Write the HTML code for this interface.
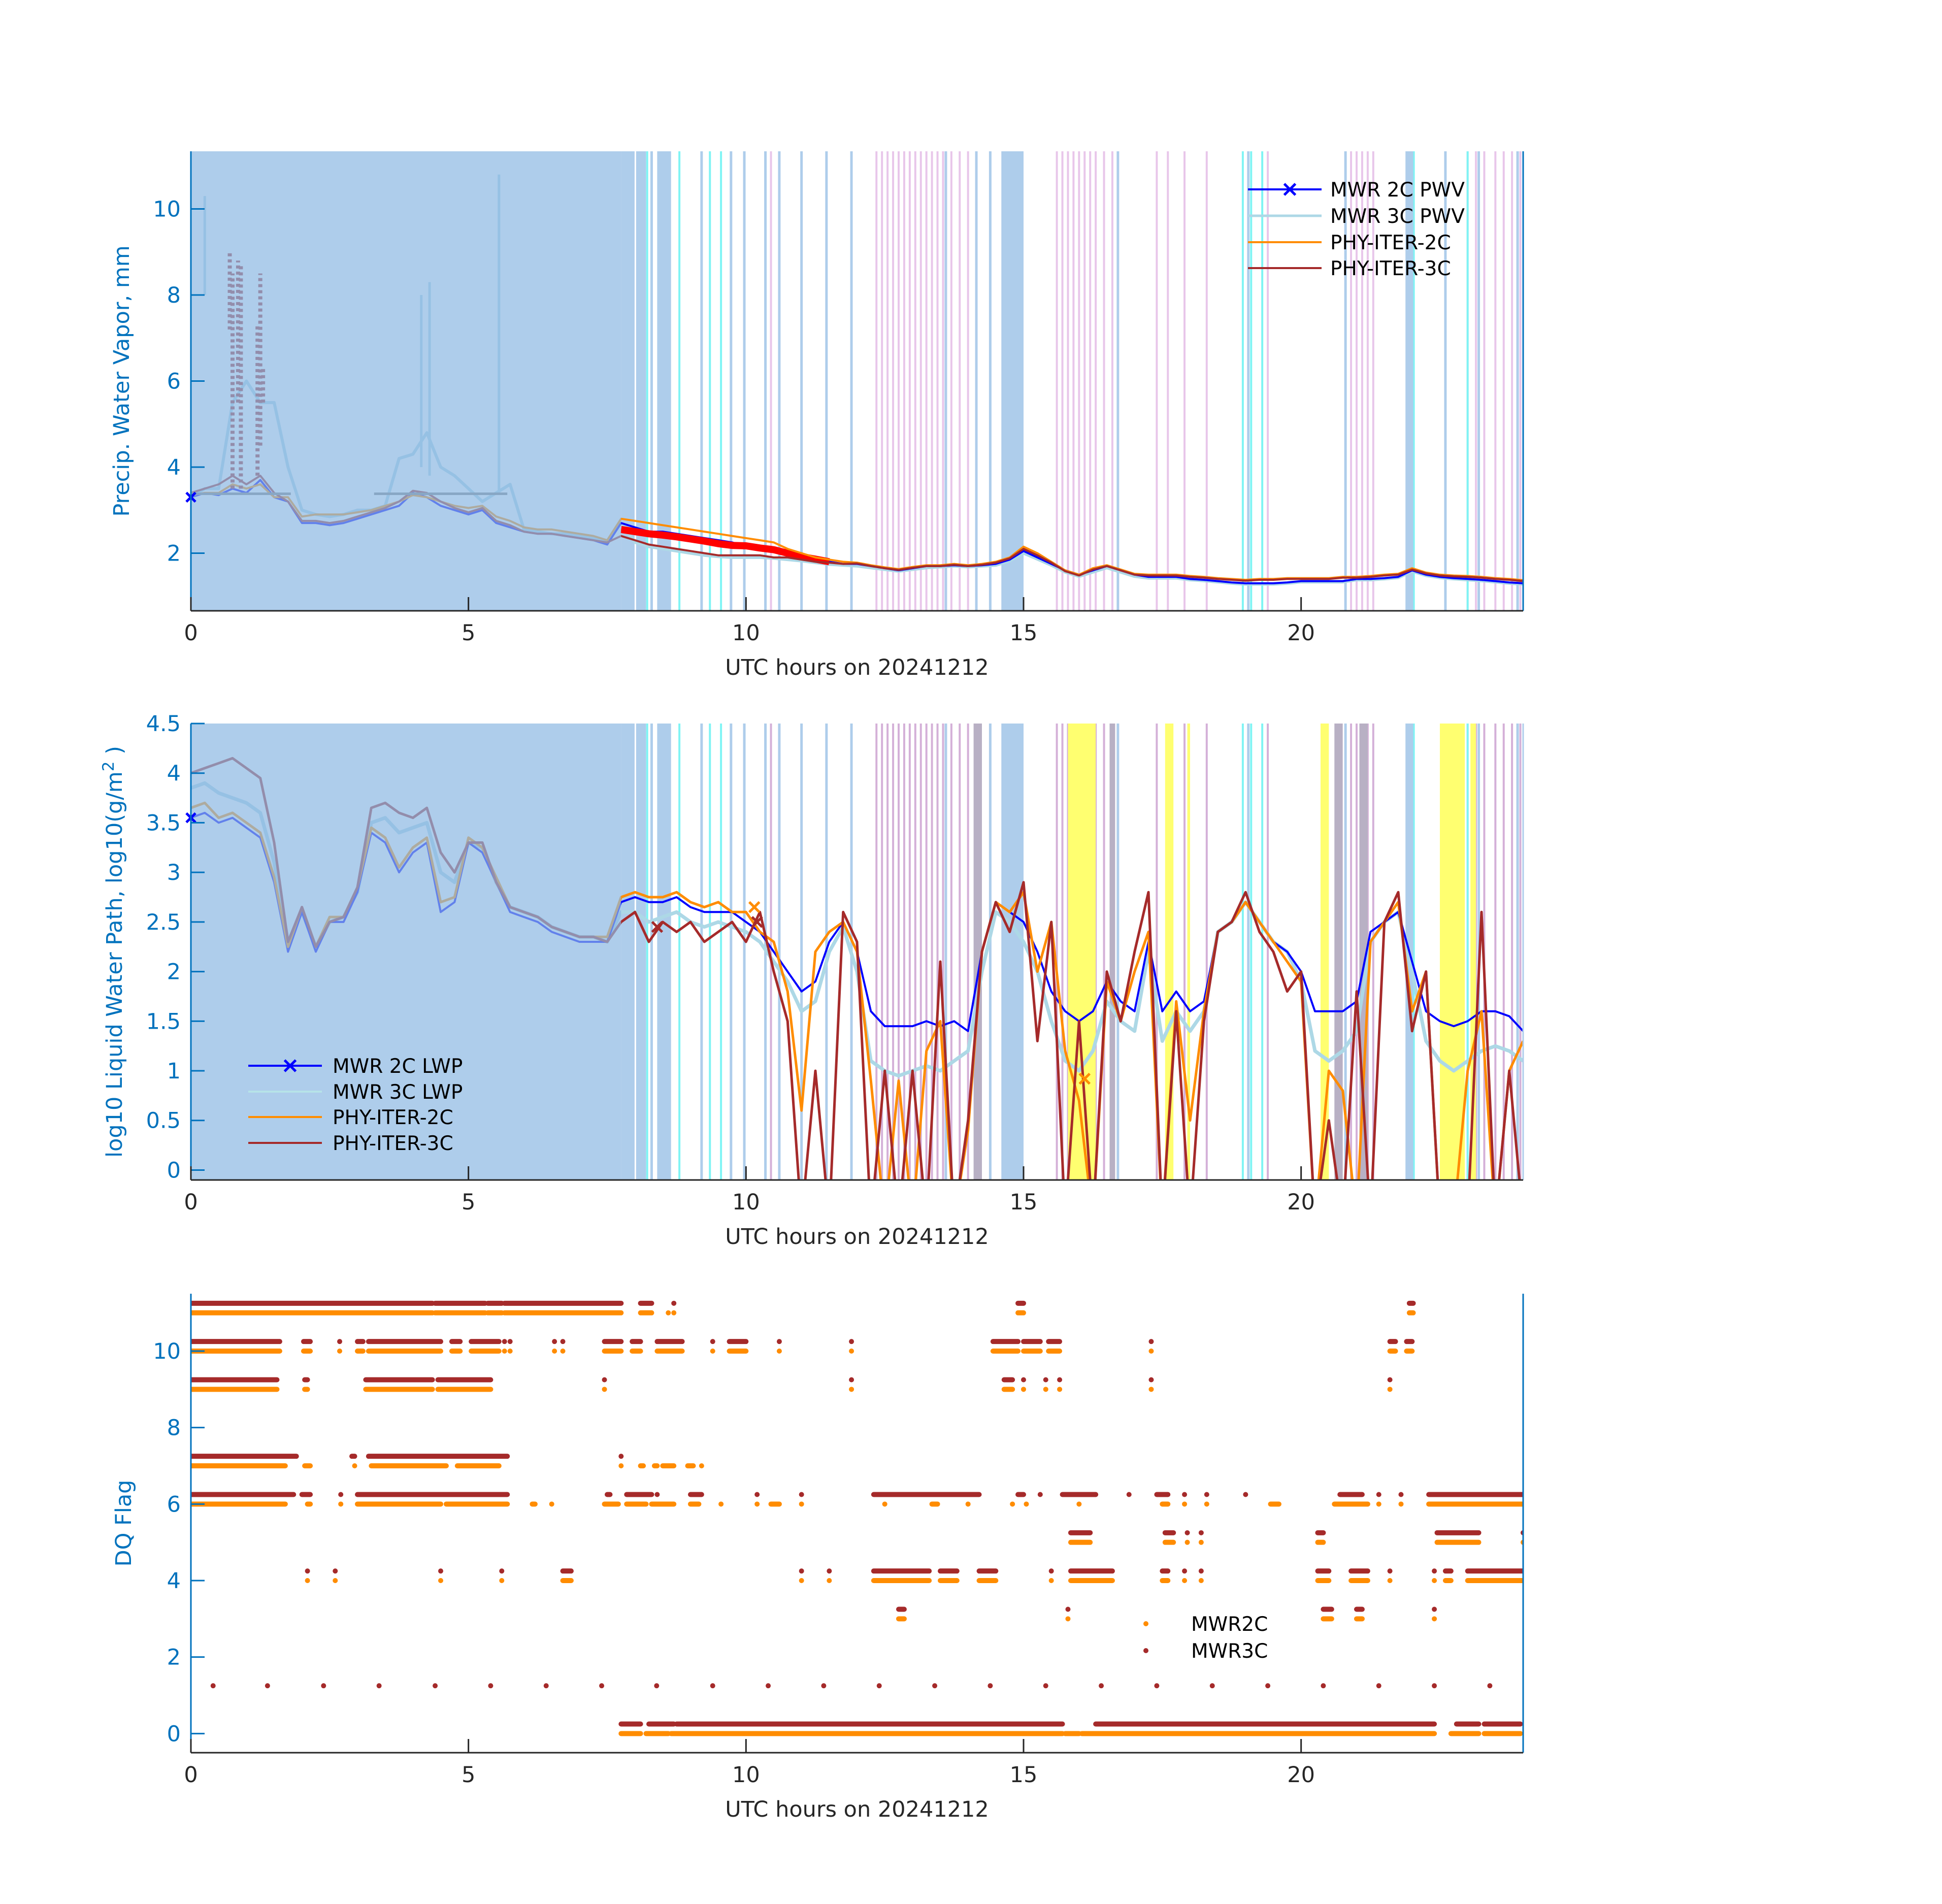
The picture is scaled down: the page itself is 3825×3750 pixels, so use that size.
<!DOCTYPE html>
<html><head><meta charset="utf-8"><style>
html,body{margin:0;padding:0;background:#fff}
svg{display:block}
text{font-family:"DejaVu Sans","Liberation Sans",sans-serif}
</style></head><body>
<svg id="fig" width="3825" height="3750" viewBox="0 0 3825 3750" xmlns="http://www.w3.org/2000/svg">
<rect width="3825" height="3750" fill="#fff"/>
<defs>
<clipPath id="c1"><rect x="376" y="298" width="2625" height="905"/></clipPath>
<clipPath id="c2"><rect x="376" y="1425" width="2625" height="899"/></clipPath>
<clipPath id="c3"><rect x="376" y="2548" width="2625" height="904"/></clipPath>
</defs>
<g id="p1"></g>
<g id="p2"></g>
<g id="p3"></g>
</svg>
<script>
// ---------- data ----------
const hours = []; for (let i = 0; i <= 96; i++) hours.push(i * 0.25);
const xTicks = [0, 5, 10, 15, 20];
const pwvTicks = [2, 4, 6, 8, 10];
const lwpTicks = [0, 0.5, 1, 1.5, 2, 2.5, 3, 3.5, 4, 4.5];
const lwpTickLabels = ['0','0.5','1','1.5','2','2.5','3','3.5','4','4.5'];
const dqTicks = [0, 2, 4, 6, 8, 10];

const pwv2C = [3.3,3.4,3.35,3.5,3.4,3.7,3.3,3.2, 2.7,2.7,2.65,2.7,2.8,2.9,3.0,3.1, 3.4,3.3,3.1,3.0,2.9,3.0,2.7,2.6,
 2.5,2.45,2.45,2.4,2.35,2.3,2.2,2.7, 2.6,2.5,2.5,2.45,2.4,2.35,2.3,2.25, 2.15,2.1,2.05,2.0,1.9,1.85,1.8,1.75,
 1.75,1.7,1.65,1.6,1.65,1.7,1.7,1.72, 1.7,1.72,1.75,1.85,2.05,1.9,1.75,1.6, 1.5,1.6,1.7,1.6,1.5,1.45,1.45,1.45,
 1.4,1.38,1.35,1.32,1.3,1.3,1.3,1.32, 1.35,1.35,1.35,1.35,1.4,1.4,1.42,1.45, 1.6,1.5,1.45,1.42,1.4,1.38,1.35,1.32, 1.3];
const pwv3C = [3.3,3.5,3.5,5.5,6.0,5.5,5.5,4.0, 3.0,2.9,2.85,2.9,3.0,3.0,3.1,4.2, 4.3,4.8,4.0,3.8,3.5,3.2,3.4,3.6,
 2.55,2.5,2.45,2.45,2.4,2.35,2.25,2.7, 2.25,2.15,2.1,2.05,2.0,1.95,1.92,1.9, 1.9,1.9,1.88,1.85,1.82,1.78,1.74,1.72,
 1.7,1.66,1.62,1.58,1.62,1.66,1.68,1.7, 1.68,1.7,1.72,1.82,2.0,1.86,1.72,1.56, 1.46,1.56,1.66,1.56,1.46,1.42,1.42,1.42,
 1.38,1.36,1.33,1.3,1.28,1.28,1.28,1.3, 1.33,1.33,1.33,1.33,1.38,1.38,1.4,1.43, 1.58,1.48,1.43,1.4,1.38,1.36,1.33,1.3, 1.28];
const pwvPhy2C = [3.35,3.4,3.4,3.6,3.5,3.6,3.3,3.3, 2.85,2.9,2.9,2.9,2.95,3.0,3.1,3.2, 3.35,3.3,3.2,3.1,3.05,3.1,2.85,2.75,
 2.6,2.55,2.55,2.5,2.45,2.4,2.3,2.8, 2.75,2.7,2.65,2.6,2.55,2.5,2.45,2.4, 2.35,2.3,2.25,2.1,2.0,1.9,1.85,1.8,
 1.78,1.72,1.67,1.63,1.68,1.72,1.72,1.75, 1.72,1.75,1.8,1.9,2.15,2.0,1.8,1.6, 1.5,1.65,1.72,1.62,1.52,1.5,1.5,1.5,
 1.47,1.45,1.42,1.4,1.38,1.4,1.4,1.42, 1.42,1.42,1.42,1.45,1.45,1.47,1.5,1.52, 1.65,1.55,1.5,1.48,1.47,1.45,1.42,1.4, 1.37];
const pwvPhy3C = [3.4,3.5,3.6,3.8,3.6,3.8,3.4,3.2, 2.75,2.75,2.7,2.75,2.85,2.95,3.05,3.2, 3.45,3.4,3.2,3.05,2.95,3.05,2.75,2.65,
 2.5,2.45,2.45,2.4,2.35,2.3,2.25,2.4, 2.3,2.2,2.15,2.1,2.05,2.0,1.95,1.95, 1.95,1.95,1.9,1.9,1.85,1.8,1.78,1.75,
 1.76,1.7,1.65,1.61,1.66,1.7,1.7,1.73, 1.7,1.73,1.78,1.88,2.1,1.95,1.78,1.58, 1.48,1.62,1.7,1.6,1.5,1.48,1.48,1.48,
 1.45,1.43,1.4,1.38,1.36,1.38,1.38,1.4, 1.4,1.4,1.4,1.43,1.43,1.45,1.48,1.5, 1.62,1.53,1.48,1.46,1.45,1.43,1.4,1.38, 1.35];
const redBandHours = [7.75,8,8.25,8.5,8.75,9,9.25,9.5,9.75,10,10.25,10.5,10.75,11,11.25,11.5];
const redBandPwv = [2.55,2.5,2.45,2.42,2.38,2.33,2.28,2.22,2.18,2.17,2.12,2.08,2.0,1.92,1.86,1.8];
const pwvSpikeHours = [0.7,0.75,0.85,0.9,1.2,1.25,1.3,0.25,5.55,4.15,4.3];
const pwvSpikeLow = [7.2,3.5,5.5,3.5,3.8,4.5,5.5,8.0,3.4,4.0,3.8];
const pwvSpikeHigh = [9.0,8.5,8.8,8.7,7.3,8.5,6.3,10.3,10.8,8.0,8.3];
const flatStart = [0, 3.3]; const flatEnd = [1.8, 5.7]; const flatValue = [3.38, 3.38];

const lwp2C = [3.55,3.6,3.5,3.55,3.45,3.35,2.9,2.2, 2.6,2.2,2.5,2.5,2.8,3.4,3.3,3.0, 3.2,3.3,2.6,2.7,3.3,3.2,2.9,2.6,
 2.55,2.5,2.4,2.35,2.3,2.3,2.3,2.7, 2.75,2.7,2.7,2.75,2.65,2.6,2.6,2.6, 2.5,2.4,2.2,2.0,1.8,1.9,2.3,2.5,
 2.2,1.6,1.45,1.45,1.45,1.5,1.45,1.5, 1.4,2.2,2.7,2.6,2.5,2.2,1.8,1.6, 1.5,1.6,1.9,1.7,1.6,2.3,1.6,1.8,
 1.6,1.7,2.4,2.5,2.7,2.5,2.3,2.2, 2.0,1.6,1.6,1.6,1.7,2.4,2.5,2.6, 2.1,1.6,1.5,1.45,1.5,1.6,1.6,1.55, 1.4];
const lwp3C = [3.85,3.9,3.8,3.75,3.7,3.6,3.1,2.3, 2.6,2.25,2.5,2.55,2.8,3.5,3.55,3.4, 3.45,3.5,3.0,2.9,3.3,3.25,2.9,2.65,
 2.6,2.55,2.45,2.4,2.35,2.35,2.3,2.6, 2.6,2.5,2.55,2.6,2.5,2.45,2.5,2.45, 2.4,2.3,2.1,1.9,1.6,1.7,2.2,2.45,
 2.0,1.1,1.0,0.95,1.0,1.05,1.0,1.1, 1.2,2.0,2.6,2.5,2.3,2.0,1.5,1.1, 1.0,1.2,1.7,1.5,1.4,2.2,1.3,1.6,
 1.4,1.6,2.4,2.5,2.7,2.5,2.3,2.2, 1.9,1.2,1.1,1.2,1.4,2.3,2.5,2.6, 2.0,1.3,1.1,1.0,1.1,1.2,1.25,1.2, 1.1];
const lwpPhy2C = [3.65,3.7,3.55,3.6,3.5,3.4,2.95,2.25, 2.65,2.25,2.55,2.55,2.85,3.45,3.35,3.05, 3.25,3.35,2.7,2.75,3.35,3.25,2.95,2.65,
 2.6,2.55,2.45,2.4,2.35,2.35,2.35,2.75, 2.8,2.75,2.75,2.8,2.7,2.65,2.7,2.6, 2.6,2.4,2.3,1.8,0.6,2.2,2.4,2.5,
 2.2,0.9,-0.5,0.9,-0.5,1.2,1.5,-0.5, 0.4,2.2,2.7,2.6,2.8,2.0,2.5,1.2, 0.7,-0.5,1.9,1.5,2.0,2.4,-0.5,1.7,
 0.5,1.6,2.4,2.5,2.7,2.5,2.3,2.1, 1.9,-0.5,1.0,0.8,-0.5,2.3,2.5,2.7, 1.6,2.0,-0.5,-0.5,1.0,1.6,-0.5,1.0, 1.3];
const lwpPhy3C = [4.0,4.05,4.1,4.15,4.05,3.95,3.3,2.3, 2.65,2.25,2.5,2.55,2.85,3.65,3.7,3.6, 3.55,3.65,3.2,3.0,3.3,3.3,2.9,2.65,
 2.6,2.55,2.45,2.4,2.35,2.35,2.3,2.5, 2.6,2.3,2.5,2.4,2.5,2.3,2.4,2.5, 2.3,2.6,2.0,1.5,-0.5,1.0,-0.5,2.6,
 2.3,-0.5,1.0,-0.5,1.0,-0.5,2.1,-0.5, 0.5,2.2,2.7,2.4,2.9,1.3,2.5,-0.5, 1.5,-0.5,2.0,1.5,2.2,2.8,-0.5,1.6,
 -0.5,1.5,2.4,2.5,2.8,2.4,2.2,1.8, 2.0,-0.5,0.5,-0.5,1.8,-0.5,2.5,2.8, 1.4,2.0,-0.5,-0.5,-0.5,2.6,-0.5,1.0, -0.5];

const shadeStart = 0, shadeEnd = 7.75;
const blueBandStart = [7.75,8.02,8.4,14.6,21.88];
const blueBandEnd = [7.95,8.2,8.65,15.0,22.02];
const blueLines = [7.97,8.3,9.2,9.73,9.97,10.35,10.6,11.0,11.45,11.9,13.6,14.15,14.4,16.7,19.05,20.8,22.6,23.2,23.9];
const cyanLines = [7.9,8.22,8.8,9.35,9.55,18.95,19.1,19.3,22.03,23.0];
const pinkLines = [10.45,12.35,12.45,12.55,12.65,12.75,12.85,12.95,13.05,13.15,13.25,13.35,13.45,13.55,13.7,13.85,14.0,
 15.6,15.7,15.8,15.9,16.0,16.1,16.2,16.3,16.45,16.6,17.4,17.6,17.9,18.3,19.4,20.9,21.0,21.1,21.2,21.3,
 23.0,23.15,23.3,23.5,23.65,23.8,23.95];
const yellowStart = [15.8,17.55,17.95,20.35,22.5,23.05];
const yellowEnd = [16.3,17.7,18.0,20.5,22.95,23.15];
const grayStart = [14.1,16.55,20.6,21.05];
const grayEnd = [14.25,16.65,20.75,21.2];
const lwpPhy2CxHours = [10.15,16.1]; const lwpPhy2CxValues = [2.65,0.92];
const lwpPhy3CxHours = [10.2,8.4]; const lwpPhy3CxValues = [2.5,2.45];

// DQ flag intervals [start,end]
const dqFlags = [11,10,9,7,6,5,4,3,0];
const dq2C = {
 11:[[0,4.35],[4.4,5.3],[5.35,5.6],[5.65,7.75],[8.1,8.3],[8.6,8.6],[8.7,8.7],[14.9,15.0],[21.95,22.02]],
 10:[[0,1.6],[2.03,2.15],[2.68,2.68],[3.0,3.1],[3.2,4.5],[4.7,4.85],[5.05,5.55],[5.65,5.65],[5.75,5.75],[6.55,6.55],[6.7,6.7],[7.45,7.75],[7.95,8.1],[8.4,8.85],[9.4,9.4],[9.7,10.0],[10.6,10.6],[11.9,11.9],[14.45,14.9],[15.0,15.3],[15.45,15.65],[17.3,17.3],[21.6,21.7],[21.9,22.0]],
 9:[[0,1.55],[2.05,2.1],[3.15,4.35],[4.45,5.4],[7.45,7.45],[11.9,11.9],[14.65,14.8],[15.0,15.0],[15.4,15.4],[15.65,15.65],[17.3,17.3],[21.6,21.6]],
 7:[[0,1.7],[2.05,2.15],[2.95,2.95],[3.25,4.6],[4.8,5.55],[7.75,7.75],[8.1,8.15],[8.35,8.4],[8.5,8.7],[8.95,9.05],[9.2,9.2]],
 6:[[0,1.7],[2.1,2.15],[2.7,2.7],[3.0,4.5],[4.6,5.7],[6.15,6.2],[6.5,6.5],[7.45,7.7],[7.85,8.2],[8.3,8.7],[9.0,9.15],[9.55,9.55],[10.2,10.2],[10.45,10.6],[11.0,11.0],[12.5,12.5],[13.35,13.45],[14.0,14.0],[14.8,14.8],[15.05,15.05],[16.0,16.0],[17.5,17.6],[17.9,17.9],[18.3,18.3],[19.45,19.6],[20.6,21.2],[21.4,21.4],[21.8,21.8],[22.3,24]],
 5:[[15.85,16.2],[17.55,17.7],[17.95,17.95],[18.2,18.2],[20.3,20.4],[22.45,23.2],[24,24]],
 4:[[2.1,2.1],[2.6,2.6],[4.5,4.5],[5.6,5.6],[6.7,6.85],[11.0,11.0],[11.5,11.5],[12.3,13.3],[13.5,13.8],[14.2,14.5],[15.5,15.5],[15.85,16.6],[17.5,17.6],[17.9,17.9],[18.2,18.2],[20.3,20.5],[20.9,21.2],[21.6,21.6],[22.4,22.4],[22.6,22.7],[23.0,24]],
 3:[[12.75,12.85],[15.8,15.8],[20.4,20.55],[21.0,21.1],[22.4,22.4]],
 0:[[7.75,8.1],[8.2,8.6],[8.65,15.7],[15.75,16.0],[16.05,22.4],[22.7,23.2],[23.3,23.95]]
};
const dq3C = {
 11:[[0,4.35],[4.4,5.3],[5.35,5.6],[5.65,7.75],[8.1,8.3],[8.7,8.7],[14.9,15.0],[21.95,22.02]],
 10:[[0,1.6],[2.03,2.15],[2.68,2.68],[3.0,3.1],[3.2,4.5],[4.7,4.85],[5.05,5.55],[5.65,5.65],[5.75,5.75],[6.55,6.55],[6.7,6.7],[7.45,7.75],[7.95,8.1],[8.4,8.85],[9.4,9.4],[9.7,10.0],[10.6,10.6],[11.9,11.9],[14.45,14.9],[15.0,15.3],[15.45,15.65],[17.3,17.3],[21.6,21.7],[21.9,22.0]],
 9:[[0,1.55],[2.05,2.1],[3.15,4.35],[4.45,5.4],[7.45,7.45],[11.9,11.9],[14.65,14.8],[15.0,15.0],[15.4,15.4],[15.65,15.65],[17.3,17.3],[21.6,21.6]],
 7:[[0,1.9],[2.9,2.95],[3.2,5.7],[7.75,7.75]],
 6:[[0,1.85],[2.0,2.15],[2.7,2.7],[3.0,5.7],[7.5,7.55],[7.85,8.3],[8.4,8.4],[9.0,9.2],[10.2,10.2],[11.0,11.0],[12.3,14.2],[14.9,15.0],[15.3,15.3],[15.7,16.3],[16.9,16.9],[17.4,17.6],[17.9,17.9],[18.3,18.3],[19.0,19.0],[20.7,21.1],[21.4,21.4],[21.8,21.8],[22.3,24]],
 5:[[15.85,16.2],[17.55,17.7],[17.95,17.95],[18.2,18.2],[20.3,20.4],[22.45,23.2],[24,24]],
 4:[[2.1,2.1],[2.6,2.6],[4.5,4.5],[5.6,5.6],[6.7,6.85],[11.0,11.0],[11.5,11.5],[12.3,13.3],[13.5,13.8],[14.2,14.5],[15.5,15.5],[15.85,16.6],[17.5,17.6],[17.9,17.9],[18.2,18.2],[20.3,20.5],[20.9,21.2],[21.6,21.6],[22.4,22.4],[22.6,22.7],[23.0,24]],
 3:[[12.75,12.85],[15.8,15.8],[20.4,20.55],[21.0,21.1],[22.4,22.4]],
 0:[[7.75,8.1],[8.25,8.7],[8.75,15.7],[16.3,22.4],[22.8,23.2],[23.3,23.95]]
};
const dqPeriodicHours = [0.4,1.38,2.39,3.39,4.4,5.4,6.4,7.4,8.39,9.4,10.4,11.4,12.4,13.4,14.4,15.4,16.4,17.4,18.4,19.4,20.4,21.4,22.4,23.4];
const dqPeriodicValue = 1.25;

// ---------- helpers ----------
const NS = 'http://www.w3.org/2000/svg';
const X0 = 376, X1 = 3000;
const xs = h => X0 + (h / 24) * (X1 - X0);
function mkY(top, bot, lo, hi) { return v => bot - (v - lo) / (hi - lo) * (bot - top); }
function el(parent, tag, attrs) {
  const e = document.createElementNS(NS, tag);
  for (const k in attrs) e.setAttribute(k, attrs[k]);
  parent.appendChild(e); return e;
}
const AX = '#0072bd';

function vlines(g, ys, top, bot, arr, color, w, name) {
  arr.forEach(h => {
    const l = el(g, 'line', {x1: xs(h), x2: xs(h), y1: top, y2: bot, stroke: color, 'stroke-width': w});
    
    
  });
}
function bands(g, top, bot, s, e, color, op, name) {
  s.forEach((a, i) => {
    const r = el(g, 'rect', {x: xs(a), y: top, width: Math.max(3, xs(e[i]) - xs(a)), height: bot - top, fill: color, opacity: op});
    
    
  });
}
function series(g, ys, xsArr, vals, color, w, name) {
  const d = vals.map((v, i) => (i ? 'L' : 'M') + xs(xsArr[i]).toFixed(1) + ',' + ys(v).toFixed(1)).join('');
  const p = el(g, 'path', {d, fill: 'none', stroke: color, 'stroke-width': w, 'stroke-linejoin': 'round'});
  
  
  return p;
}
function xMark(g, x, y, color, s, name) {
  const p = el(g, 'path', {d: `M${x-s},${y-s}L${x+s},${y+s}M${x-s},${y+s}L${x+s},${y-s}`, stroke: color, 'stroke-width': 5, fill: 'none'});
  
  
}
function axes(g, top, bot, ys, ticks, labels, ylabel, ylx, rightColor) {
  const yl = el(g, 'line', {x1: X0, x2: X0, y1: top, y2: bot, stroke: AX, 'stroke-width': 3});
   
  const rl = el(g, 'line', {x1: X1, x2: X1, y1: top, y2: bot, stroke: rightColor, 'stroke-width': 3});
   
  const xl = el(g, 'line', {x1: X0, x2: X1, y1: bot, y2: bot, stroke: '#262626', 'stroke-width': 3});
   
  ticks.forEach((t, i) => {
    const y = ys(t);
    const tk = el(g, 'line', {x1: X0, x2: X0 + 27, y1: y, y2: y, stroke: AX, 'stroke-width': 3});
     
    const tx = el(g, 'text', {x: 356, y: y + 15, 'text-anchor': 'end', 'font-size': 43, fill: AX});
    tx.textContent = labels[i];
     
  });
  xTicks.forEach(t => {
    const x = xs(t);
    const tk = el(g, 'line', {x1: x, x2: x, y1: bot, y2: bot - 27, stroke: '#262626', 'stroke-width': 3});
     
    const tx = el(g, 'text', {x: x, y: bot + 58, 'text-anchor': 'middle', 'font-size': 43, fill: '#262626'});
    tx.textContent = String(t);
     
  });
  const xt = el(g, 'text', {x: 1688, y: bot + 126, 'text-anchor': 'middle', 'font-size': 43, fill: '#262626'});
  xt.textContent = 'UTC hours on 20241212';
   
  const cy = (top + bot) / 2;
  const yt = el(g, 'text', {x: ylx, y: cy, 'text-anchor': 'middle', 'font-size': 43, fill: AX, transform: `rotate(-90 ${ylx} ${cy})`});
  yt.innerHTML = ylabel;
   
}
function legend(g, x0, x1, tx, rows, names, colors, widths, marker) {
  names.forEach((n, i) => {
    const y = rows[i];
    const ln = el(g, 'line', {x1: x0, x2: x1, y1: y, y2: y, stroke: colors[i], 'stroke-width': widths[i]});
     
    if (i === 0 && marker) xMark(g, (x0 + x1) / 2 + 10, y, colors[0], 11, 'legend-marker');
    const t = el(g, 'text', {x: tx, y: y + 14, 'font-size': 39, fill: '#000'});
    t.textContent = n;
     
  });
}

// ---------- panel 1 ----------
(function () {
  const g = document.getElementById('p1');
  const top = 298, bot = 1203, ys = mkY(top, bot, 0.66, 11.34);
  const c = el(g, 'g', {'clip-path': 'url(#c1)'});
  vlines(c, ys, top, bot, pinkLines, '#e8c6ea', 4, 'pink-flag-line');
  vlines(c, ys, top, bot, blueLines, '#aecdeb', 5, 'blue-flag-line');
  vlines(c, ys, top, bot, cyanLines, '#7ff4f4', 4, 'cyan-flag-line');
  bands(c, top, bot, blueBandStart, blueBandEnd, '#aecdeb', 1, 'blue-flag-band');
  series(c, ys, hours, pwv3C, '#add8e6', 6, 'mwr-3c-pwv');
  series(c, ys, hours, pwv2C, '#0000ff', 4, 'mwr-2c-pwv');
  series(c, ys, redBandHours, redBandPwv, '#ff0000', 14, 'red-band');
  series(c, ys, hours, pwvPhy2C, '#ff8c00', 4, 'phy-iter-2c');
  series(c, ys, hours, pwvPhy3C, '#a52a2a', 4, 'phy-iter-3c');
  pwvSpikeHours.forEach((h, i) => {
    const l = el(c, 'line', {x1: xs(h), x2: xs(h), y1: ys(pwvSpikeLow[i]), y2: ys(pwvSpikeHigh[i]), stroke: i < 7 ? '#a52a2a' : '#add8e6', 'stroke-width': i < 7 ? 8 : 5, 'stroke-dasharray': i < 7 ? '6 6' : 'none'});
     
  });
  flatStart.forEach((s, i) => {
    const l = el(c, 'line', {x1: xs(s), x2: xs(flatEnd[i]), y1: ys(flatValue[i]), y2: ys(flatValue[i]), stroke: '#808080', 'stroke-width': 5});
     
  });
  const sh = el(c, 'rect', {x: xs(shadeStart), y: top, width: xs(shadeEnd) - xs(shadeStart), height: bot - top, fill: 'rgb(139,184,226)', opacity: 0.7});
   
  xMark(g, xs(0), ys(pwv2C[0]), '#0000ff', 9, 'start-marker');
  axes(g, top, bot, ys, pwvTicks, pwvTicks.map(String), 'Precip. Water Vapor, mm', 254, '#0072bd');
  legend(g, 2458, 2603, 2620, [373, 425, 477, 528], ['MWR 2C PWV','MWR 3C PWV','PHY-ITER-2C','PHY-ITER-3C'], ['#0000ff','#add8e6','#ff8c00','#a52a2a'], [4, 5, 4, 4], true);
})();

// ---------- panel 2 ----------
(function () {
  const g = document.getElementById('p2');
  const top = 1425, bot = 2324, ys = mkY(top, bot, -0.1, 4.5);
  const c = el(g, 'g', {'clip-path': 'url(#c2)'});
  vlines(c, ys, top, bot, pinkLines, '#d4b0d8', 4, 'pink-flag-line');
  vlines(c, ys, top, bot, blueLines, '#aecdeb', 5, 'blue-flag-line');
  vlines(c, ys, top, bot, cyanLines, '#7ff4f4', 4, 'cyan-flag-line');
  bands(c, top, bot, blueBandStart, blueBandEnd, '#aecdeb', 1, 'blue-flag-band');
  bands(c, top, bot, yellowStart, yellowEnd, '#ffff70', 1, 'yellow-flag-band');
  bands(c, top, bot, grayStart, grayEnd, '#b8b0c4', 1, 'gray-flag-band');
  series(c, ys, hours, lwp3C, '#add8e6', 7, 'mwr-3c-lwp');
  series(c, ys, hours, lwp2C, '#0000ff', 4, 'mwr-2c-lwp');
  series(c, ys, hours, lwpPhy2C, '#ff8c00', 5, 'phy-iter-2c');
  series(c, ys, hours, lwpPhy3C, '#a52a2a', 5, 'phy-iter-3c');
  lwpPhy2CxHours.forEach((h, i) => xMark(c, xs(h), ys(lwpPhy2CxValues[i]), '#ff8c00', 10, 'phy-2c-marker'));
  lwpPhy3CxHours.forEach((h, i) => xMark(c, xs(h), ys(lwpPhy3CxValues[i]), '#a52a2a', 10, 'phy-3c-marker'));
  const sh = el(c, 'rect', {x: xs(shadeStart), y: top, width: xs(shadeEnd) - xs(shadeStart), height: bot - top, fill: 'rgb(139,184,226)', opacity: 0.7});
   
  xMark(g, xs(0), ys(lwp2C[0]), '#0000ff', 9, 'start-marker');
  axes(g, top, bot, ys, lwpTicks, lwpTickLabels, 'log10 Liquid Water Path, log10(g/m<tspan dy="-16" font-size="31">2</tspan><tspan dy="16"> )</tspan>', 240, '#aecdeb');
  legend(g, 489, 634, 655, [2099, 2150, 2200, 2251], ['MWR 2C LWP','MWR 3C LWP','PHY-ITER-2C','PHY-ITER-3C'], ['#0000ff','#b6e3e8','#ff8c00','#a52a2a'], [4, 4, 4, 4], true);
})();

// ---------- panel 3 ----------
(function () {
  const g = document.getElementById('p3');
  const top = 2548, bot = 3452, ys = mkY(top, bot, -0.5, 11.5);
  const c = el(g, 'g', {'clip-path': 'url(#c3)'});
  function rows(data, off, color, name) {
    dqFlags.forEach(f => {
      (data[f] || []).forEach(iv => {
        const l = el(c, 'line', {x1: xs(iv[0]), x2: xs(iv[1]) + 0.01, y1: ys(f + off), y2: ys(f + off), stroke: color, 'stroke-width': 10, 'stroke-linecap': 'round'});
        
        
      });
    });
  }
  rows(dq2C, 0, '#ff8c00', 'mwr2c-flag-points');
  rows(dq3C, 0.25, '#a52a2a', 'mwr3c-flag-points');
  dqPeriodicHours.forEach(h => {
    const d = el(c, 'circle', {cx: xs(h), cy: ys(dqPeriodicValue), r: 5, fill: '#a52a2a'});
    
    
  });
  axes(g, top, bot, ys, dqTicks, dqTicks.map(String), 'DQ Flag', 258, '#0072bd');
  [['MWR2C', '#ff8c00', 3198], ['MWR3C', '#a52a2a', 3251]].forEach(r => {
    const d = el(g, 'circle', {cx: 2257, cy: r[2], r: 5, fill: r[1]});
     
    const t = el(g, 'text', {x: 2346, y: r[2] + 14, 'font-size': 39, fill: '#000'});
    t.textContent = r[0];
     
  });
})();
</script>
</body></html>
